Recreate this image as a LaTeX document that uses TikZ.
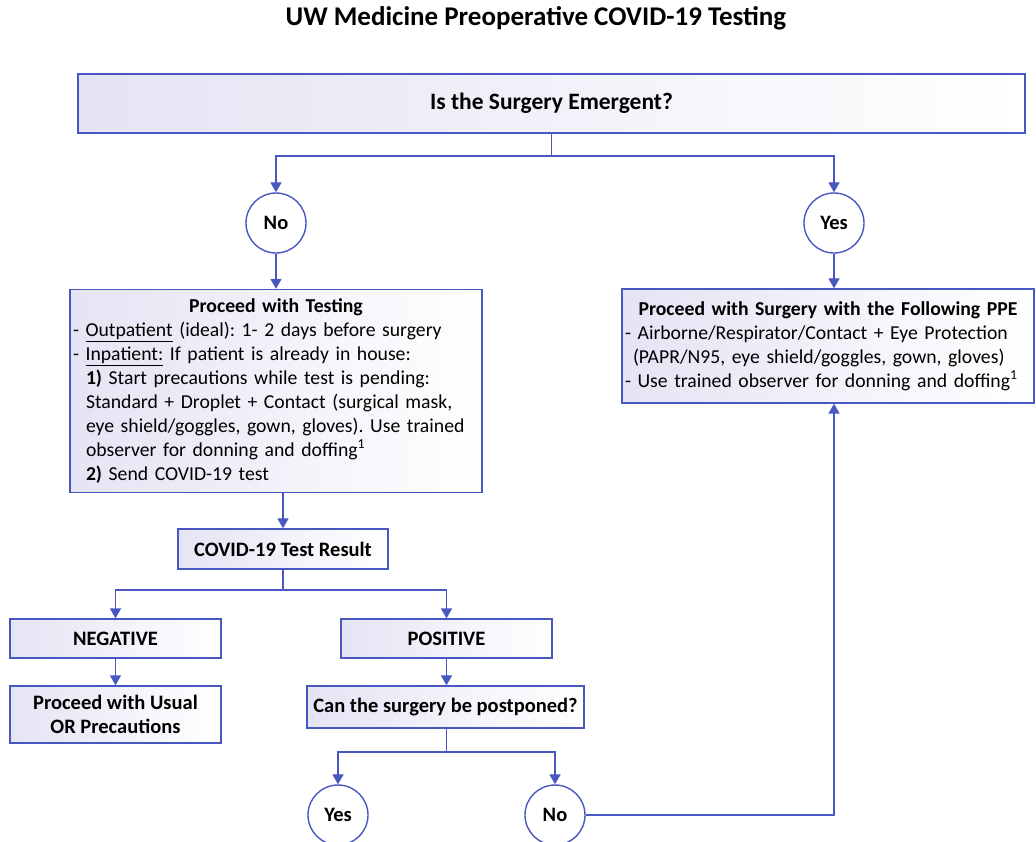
\documentclass[tikz,border=0pt]{standalone}
\usepackage{fontspec}
\setmainfont{Carlito}
\usetikzlibrary{arrows.meta,calc}
\definecolor{lineblue}{RGB}{72,88,192}
\definecolor{fillL}{RGB}{228,228,244}
\begin{document}
\frenchspacing
\begin{tikzpicture}[x=1pt,y=-1pt,
  box/.style={draw=lineblue,line width=1.4pt,left color=fillL,right color=white,
    inner sep=3pt,font=\fontsize{20.5}{24}\selectfont\bfseries,align=center},
  circ/.style={draw=lineblue,line width=1.4pt,fill=white,circle,minimum size=60pt,
    inner sep=0pt,font=\fontsize{20.5}{24}\selectfont\bfseries},
  conn/.style={draw=lineblue,line width=1.8pt,-{Triangle[length=10pt,width=11pt]}},
  plain/.style={draw=lineblue,line width=1.8pt}]
\useasboundingbox (0,0) rectangle (1036,841);
\fill[white] (0,0) rectangle (1036,841);

\node[font=\fontsize{27}{30}\selectfont\bfseries] (title) at (536,18) {UW Medicine Preoperative COVID-19 Testing};

\node[box,minimum width=947pt,minimum height=59pt,font=\fontsize{23.5}{26}\selectfont\bfseries] (top) at (551.5,103.5) {Is the Surgery Emergent?};

\node[circ] (no1) at (276,223) {No};
\node[circ] (yes1) at (834,223) {Yes};

\node[box,minimum width=412pt,minimum height=203pt,text width=406pt,align=left,font=\fontsize{19.7}{24}\selectfont] (test) at (276,391) {%
{\centering\textbf{Proceed with Testing}\par}%
\raggedright
- \underline{Outpatient} (ideal): 1- 2 days before surgery\\
- \underline{Inpatient:} If patient is already in house:\\
\hspace*{13pt}\textbf{1)} Start precautions while test is pending:\\
\hspace*{13pt}Standard + Droplet + Contact (surgical mask,\\
\hspace*{13pt}eye shield/goggles, gown, gloves). Use trained\\
\hspace*{13pt}observer for donning and doffing\textsuperscript{1}\\
\hspace*{13pt}\textbf{2)} Send COVID-19 test};

\node[box,minimum width=412pt,minimum height=114pt,text width=406pt,align=left,font=\fontsize{19.7}{24}\selectfont] (ppe) at (828,346) {%
{\centering\textbf{Proceed with Surgery with the Following PPE}\par}%
\raggedright
- Airborne/Respirator/Contact + Eye Protection\\
\hspace*{8pt}(PAPR/N95, eye shield/goggles, gown, gloves)\\
- Use trained observer for donning and doffing\textsuperscript{1}};

\node[box,minimum width=210pt,minimum height=40pt] (res) at (283,549) {COVID-19 Test Result};
\node[box,minimum width=211pt,minimum height=39pt] (neg) at (115.5,638.5) {NEGATIVE};
\node[box,minimum width=211pt,minimum height=39pt] (pos) at (446.5,638.5) {POSITIVE};
\node[box,minimum width=211pt,minimum height=57pt] (usual) at (115.5,714.5) {Proceed with Usual\\OR Precautions};
\node[box,minimum width=277pt,minimum height=42pt] (pp) at (445.5,707) {Can the surgery be postponed?};

\node[circ] (yes2) at (338,815) {Yes};
\node[circ] (no2) at (555,815) {No};

\coordinate (s1) at (551,156);
\coordinate (s2) at (283,590);
\coordinate (s3) at (446,752);

\draw[plain] (top.south) -- (top.south |- s1);
\draw[conn] (top.south |- s1) -| (no1.north);
\draw[conn] (top.south |- s1) -| (yes1.north);
\draw[conn] (no1.south) -- (no1.south |- test.north);
\draw[conn] (yes1.south) -- (yes1.south |- ppe.north);
\draw[conn] (res.north |- test.south) -- (res.north);
\draw[plain] (res.south) -- (res.south |- s2);
\draw[conn] (res.south |- s2) -| (neg.north);
\draw[conn] (res.south |- s2) -| (pos.north);
\draw[conn] (neg.south) -- (usual.north);
\draw[conn] (pos.south) -- (pos.south |- pp.north);
\draw[plain] (pos.south |- pp.south) -- (pos.south |- s3);
\draw[conn] (pos.south |- s3) -| (yes2.north);
\draw[conn] (pos.south |- s3) -| (no2.north);
\draw[conn] (no2.east) -- (no2.east -| yes1.center) -- (yes1.center |- ppe.south);
\end{tikzpicture}
\end{document}
